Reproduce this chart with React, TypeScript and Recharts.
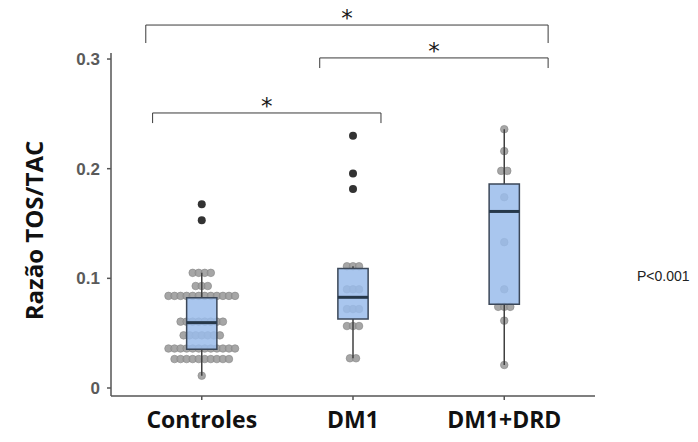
import React from 'react';
import {
  ComposedChart,
  XAxis,
  YAxis,
  Scatter,
  ReferenceArea,
  ReferenceLine,
  ReferenceDot,
} from 'recharts';

// categorias e eixo
const GRUPOS = ['Controles', 'DM1', 'DM1+DRD'];
const POS_GRUPOS = [1, 2, 3];
const Y_TICKS = [0, 0.1, 0.2, 0.3];

// estatísticas dos boxplots (por grupo)
const Q1 = [0.0353, 0.0629, 0.0763];
const MEDIANA = [0.0596, 0.0827, 0.161];
const Q3 = [0.0823, 0.109, 0.186];
const BIGODE_MIN = [0.0112, 0.0271, 0.021];
const BIGODE_MAX = [0.105, 0.111, 0.236];

// pontos individuais: nível da linha e quantos pontos nela
const controlesNiveis = [0.105, 0.093, 0.084, 0.0605, 0.048, 0.036, 0.0264, 0.0112];
const controlesContagem = [4, 3, 12, 8, 7, 12, 10, 1];
const dm1Niveis = [0.111, 0.09, 0.072, 0.0565, 0.0271];
const dm1Contagem = [3, 3, 3, 3, 2];
const drdNiveis = [0.236, 0.216, 0.198, 0.174, 0.133, 0.09, 0.074, 0.0614, 0.021];
const drdContagem = [1, 1, 2, 1, 1, 1, 3, 1, 1];

// outliers
const controlesOutliers = [0.1675, 0.153];
const dm1Outliers = [0.23, 0.1957, 0.1814];
const drdOutliers: number[] = [];

// comparações (colchetes com *)
const COMP_DE = [0.63, 1.78, 0.675];
const COMP_ATE = [3.29, 3.29, 2.185];
const COMP_Y = [0.331, 0.301, 0.2508];
const COMP_PONTA = [0.3146, 0.2918, 0.2416];

const PASSO = 0.04;
const MEIA_CAIXA = 0.1;

function enxame(grupo: number, niveis: number[], contagem: number[]) {
  const pts: { x: number; y: number }[] = [];
  niveis.forEach((v, i) => {
    const n = contagem[i];
    for (let k = 0; k < n; k++) {
      pts.push({ x: grupo + (k - (n - 1) / 2) * PASSO, y: v });
    }
  });
  return pts;
}

const pontos = [
  ...enxame(POS_GRUPOS[0], controlesNiveis, controlesContagem),
  ...enxame(POS_GRUPOS[1], dm1Niveis, dm1Contagem),
  ...enxame(POS_GRUPOS[2], drdNiveis, drdContagem),
];

const outliers = [
  ...controlesOutliers.map((y) => ({ x: POS_GRUPOS[0], y })),
  ...dm1Outliers.map((y) => ({ x: POS_GRUPOS[1], y })),
  ...drdOutliers.map((y) => ({ x: POS_GRUPOS[2], y })),
];

const PontoCinza = (props: any) => (
  <circle
    cx={props.cx}
    cy={props.cy}
    r={3.8}
    fill="#9c9c9c"
    fillOpacity={0.9}
    stroke="#858585"
    strokeWidth={0.6}
  />
);

const PontoEscuro = (props: any) => (
  <circle cx={props.cx} cy={props.cy} r={4} fill="#333" />
);

const TickX = (props: any) => {
  const { x, y, payload } = props;
  return (
    <text
      x={x}
      y={y + 26}
      textAnchor="middle"
      fill="#111"
      fontFamily="'Open Sans', sans-serif"
      fontWeight={700}
      fontSize={23}
    >
      {GRUPOS[payload.value - 1]}
    </text>
  );
};

const RotuloY = (props: any) => {
  const vb = props.viewBox || { x: 0, y: 53, width: 111, height: 343 };
  const cx = vb.x + 43;
  const cy = vb.y + vb.height / 2 + 6;
  return (
    <text
      x={cx}
      y={cy}
      transform={`rotate(-90, ${cx}, ${cy})`}
      textAnchor="middle"
      fill="#111"
      fontFamily="'Open Sans', sans-serif"
      fontWeight={700}
      fontSize={24}
    >
      Razão TOS/TAC
    </text>
  );
};

export default function App() {
  return (
    <div
      style={{
        position: 'absolute',
        left: 0,
        top: 0,
        width: 698,
        height: 442,
        background: '#fff',
        fontFamily: "'Liberation Sans', Arial, sans-serif",
      }}
    >
      <ComposedChart
        width={698}
        height={442}
        margin={{ top: 53, right: 103, bottom: 0, left: 0 }}
      >
        <XAxis
          type="number"
          dataKey="x"
          domain={[0.4, 3.6]}
          ticks={POS_GRUPOS}
          allowDataOverflow
          height={46}
          tickSize={4}
          tick={<TickX />}
          axisLine={{ stroke: '#555', strokeWidth: 1.5 }}
          tickLine={{ stroke: '#555', strokeWidth: 1.5 }}
        />
        <YAxis
          type="number"
          dataKey="y"
          domain={[-0.0073, 0.3055]}
          ticks={Y_TICKS}
          allowDataOverflow
          width={111}
          tickSize={4}
          tickMargin={7}
          tickFormatter={(v: number) => (v === 0 ? '0' : v.toFixed(1))}
          tick={{ fill: '#5a5a5a', fontSize: 17, fontWeight: 700, fontFamily: "'Liberation Sans', Arial, sans-serif" }}
          axisLine={{ stroke: '#555', strokeWidth: 1.5 }}
          tickLine={{ stroke: '#555', strokeWidth: 1.5 }}
          label={<RotuloY />}
        />

        <Scatter
          data={pontos}
          shape={<PontoCinza />}
          isAnimationActive={false}
          zIndex={100}
        />

        {POS_GRUPOS.map((g, i) => (
          <ReferenceLine
            key={`bmax-${i}`}
            segment={[{ x: g, y: Q3[i] }, { x: g, y: BIGODE_MAX[i] }]}
            stroke="#404040"
            strokeWidth={1.5}
            zIndex={150}
          />
        ))}
        {POS_GRUPOS.map((g, i) => (
          <ReferenceLine
            key={`bmin-${i}`}
            segment={[{ x: g, y: BIGODE_MIN[i] }, { x: g, y: Q1[i] }]}
            stroke="#404040"
            strokeWidth={1.5}
            zIndex={150}
          />
        ))}
        {POS_GRUPOS.map((g, i) => (
          <ReferenceArea
            key={`box-${i}`}
            x1={g - MEIA_CAIXA}
            x2={g + MEIA_CAIXA}
            y1={Q1[i]}
            y2={Q3[i]}
            fill="#9abceb"
            fillOpacity={0.85}
            stroke="#3b4758"
            strokeWidth={1.5}
            strokeOpacity={1}
            zIndex={200}
          />
        ))}
        {POS_GRUPOS.map((g, i) => (
          <ReferenceLine
            key={`med-${i}`}
            segment={[{ x: g - MEIA_CAIXA, y: MEDIANA[i] }, { x: g + MEIA_CAIXA, y: MEDIANA[i] }]}
            stroke="#26384a"
            strokeWidth={3}
            zIndex={300}
          />
        ))}

        <Scatter
          data={outliers}
          shape={<PontoEscuro />}
          isAnimationActive={false}
          zIndex={400}
        />

        {COMP_Y.map((y, i) => (
          <ReferenceLine
            key={`ch-${i}`}
            segment={[{ x: COMP_DE[i], y }, { x: COMP_ATE[i], y }]}
            stroke="#3a3a3a"
            strokeWidth={1}
            ifOverflow="visible"
            zIndex={500}
          />
        ))}
        {COMP_Y.map((y, i) => (
          <ReferenceLine
            key={`cl-${i}`}
            segment={[{ x: COMP_DE[i], y }, { x: COMP_DE[i], y: COMP_PONTA[i] }]}
            stroke="#3a3a3a"
            strokeWidth={1}
            ifOverflow="visible"
            zIndex={500}
          />
        ))}
        {COMP_Y.map((y, i) => (
          <ReferenceLine
            key={`cr-${i}`}
            segment={[{ x: COMP_ATE[i], y }, { x: COMP_ATE[i], y: COMP_PONTA[i] }]}
            stroke="#3a3a3a"
            strokeWidth={1}
            ifOverflow="visible"
            zIndex={500}
          />
        ))}
        {COMP_Y.map((y, i) => (
          <ReferenceDot
            key={`star-${i}`}
            x={(COMP_DE[i] + COMP_ATE[i]) / 2}
            y={y}
            r={0.01}
            fill="none"
            stroke="none"
            ifOverflow="visible"
            zIndex={500}
            label={{
              value: '*',
              position: 'top',
              offset: -1,
              fill: '#1a1a1a',
              fontSize: 23,
              fontFamily: "'DejaVu Sans', sans-serif",
            }}
          />
        ))}
      </ComposedChart>
      <div
        style={{
          position: 'absolute',
          left: 637,
          top: 268,
          fontSize: 14,
          color: '#222',
          fontFamily: "'Liberation Sans', Arial, sans-serif",
          whiteSpace: 'nowrap',
        }}
      >
        P&lt;0.001
      </div>
    </div>
  );
}
